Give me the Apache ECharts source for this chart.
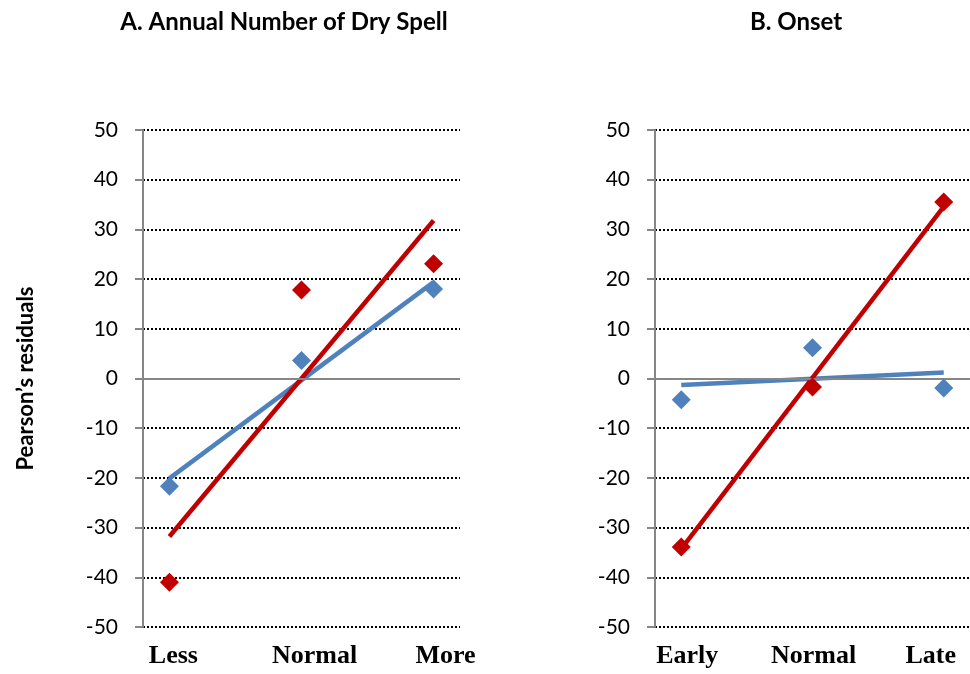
<!DOCTYPE html>
<html>
<head>
<meta charset="utf-8">
<script src="https://cdn.jsdelivr.net/npm/echarts@6/dist/echarts.min.js"></script>
<style>
  html, body { margin: 0; padding: 0; background: #fff; }
  #chart { width: 970px; height: 674px; }
</style>
</head>
<body>
<div id="chart"></div>
<script>
// categories
const catsA = ["Less", "Normal", "More"];
const catsB = ["Early", "Normal", "Late"];

// Pearson's residuals (blue / red markers)
const blueA = [-21.7, 3.6, 18.0];
const redA = [-41.0, 17.8, 23.1];
const blueB = [-4.3, 6.2, -1.9];
const redB = [-33.9, -1.7, 35.5];

// trend lines, read at first and last category
const blueTrendA = [-20.1, 19.4];
const redTrendA = [-31.8, 31.8];
const blueTrendB = [-1.3, 1.2];
const redTrendB = [-34.3, 34.6];

// small shift (px) of category labels vs. marker position
const shiftA = [4, 13, 12];
const shiftB = [6, 1, -13];

const BLUE = "#4F81BD";
const RED = "#C00000";
const GRAY = "#868686";

const chart = echarts.init(document.getElementById("chart"));

// points on x = 1,2,3
const pts = (arr) => arr.map((v, i) => [i + 1, v]);
const trend = (arr) => [[1, arr[0]], [3, arr[1]]];

const richFor = (shifts) => {
  const rich = {};
  shifts.forEach((s, i) => {
    rich["s" + i] = {
      fontFamily: "Liberation Serif",
      fontWeight: "bold",
      fontSize: 26,
      color: "#000",
      padding: s >= 0 ? [0, 0, 0, 2 * s] : [0, -2 * s, 0, 0],
    };
  });
  return rich;
};

const xAxisFor = (idx, cats, shifts) => ({
  type: "value",
  gridIndex: idx,
  min: 0.8,
  max: 3.2,
  axisLine: { show: false },
  axisTick: { show: false },
  splitLine: { show: false },
  axisLabel: {
    customValues: [1, 2, 3],
    margin: 16,
    formatter: (v) => {
      const i = Math.round(v) - 1;
      return "{s" + i + "|" + cats[i] + "}";
    },
    rich: richFor(shifts),
  },
});

const yAxisFor = (idx, withName) => ({
  type: "value",
  gridIndex: idx,
  min: -50,
  max: 50,
  interval: 10,
  name: withName ? "Pearson\u2019s residuals" : "",
  nameLocation: "middle",
  nameRotate: 90,
  nameGap: 106,
  nameTextStyle: {
    fontFamily: "Lato",
    fontWeight: "bold",
    fontSize: 22,
    color: "#000",
  },
  axisLine: { show: true, lineStyle: { color: GRAY, width: 2 } },
  axisTick: { show: true, length: 8, lineStyle: { color: GRAY, width: 2 } },
  axisLabel: {
    margin: 25,
    fontFamily: "Lato",
    fontSize: 21,
    color: "#000",
  },
  splitLine: {
    show: true,
    lineStyle: { color: "#000", width: 2, type: [2, 2] },
  },
});

const scatter = (idx, data, color) => ({
  type: "scatter",
  xAxisIndex: idx,
  yAxisIndex: idx,
  data: pts(data),
  symbol: "diamond",
  symbolSize: 19,
  itemStyle: { color: color, opacity: 1 },
  z: 5,
});

const line = (idx, data, color) => ({
  type: "line",
  xAxisIndex: idx,
  yAxisIndex: idx,
  data: trend(data),
  showSymbol: false,
  lineStyle: { color: color, width: 4.5 },
  z: 4,
});

const zeroLine = (idx) => ({
  type: "line",
  xAxisIndex: idx,
  yAxisIndex: idx,
  data: [],
  markLine: {
    silent: true,
    symbol: "none",
    label: { show: false },
    lineStyle: { color: GRAY, width: 2, type: "solid" },
    data: [{ yAxis: 0 }],
  },
  z: 3,
});

const titleStyle = { fontFamily: "Lato", fontWeight: "bold", fontSize: 24, color: "#000" };

const option = {
  animation: false,
  title: [
    { text: "A. Annual Number of Dry Spell", left: 279, top: 5, textAlign: "center", textStyle: titleStyle },
    { text: "B. Onset", left: 791, top: 5, textAlign: "center", textStyle: titleStyle },
  ],
  grid: [
    { left: 143, top: 130, width: 317, height: 497 },
    { left: 655, top: 130, width: 318, height: 497 },
  ],
  xAxis: [xAxisFor(0, catsA, shiftA), xAxisFor(1, catsB, shiftB)],
  yAxis: [yAxisFor(0, true), yAxisFor(1, false)],
  series: [
    zeroLine(0),
    zeroLine(1),
    line(0, blueTrendA, BLUE),
    line(0, redTrendA, RED),
    scatter(0, blueA, BLUE),
    scatter(0, redA, RED),
    line(1, blueTrendB, BLUE),
    line(1, redTrendB, RED),
    scatter(1, blueB, BLUE),
    scatter(1, redB, RED),
  ],
};

chart.setOption(option);
</script>
</body>
</html>
